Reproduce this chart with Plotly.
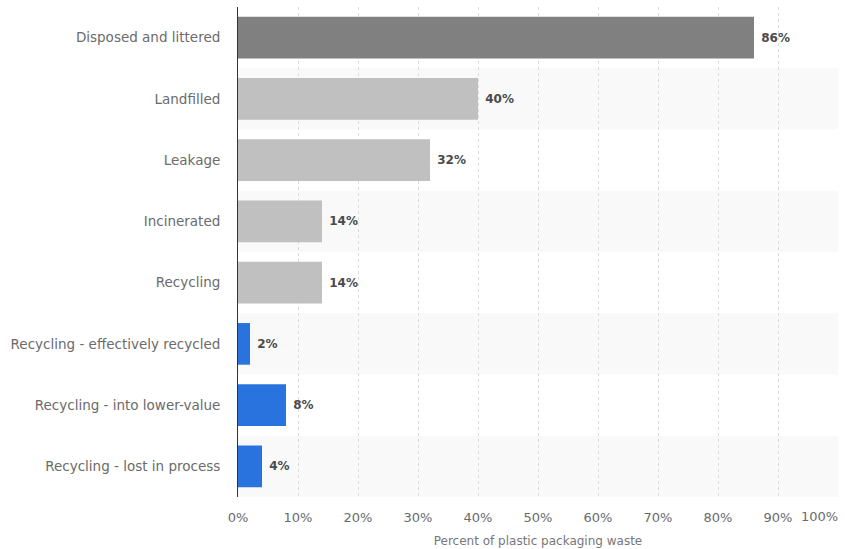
import plotly.graph_objects as go

categories = [
    "Disposed and littered",
    "Landfilled",
    "Leakage",
    "Incinerated",
    "Recycling",
    "Recycling - effectively recycled",
    "Recycling - into lower-value",
    "Recycling - lost in process",
]
values = [86, 40, 32, 14, 14, 2, 8, 4]
bar_colors = ["#808080", "#c0c0c0", "#c0c0c0", "#c0c0c0", "#c0c0c0",
              "#2873dd", "#2873dd", "#2873dd"]
x_ticks = [0, 10, 20, 30, 40, 50, 60, 70, 80, 90, 100]
x_tick_labels = [f"{t}%" for t in x_ticks]

FONT = "DejaVu Sans, Verdana, sans-serif"
TEXT_GREY = "#6b6b6b"

fig = go.Figure(
    go.Bar(
        x=values,
        y=categories,
        orientation="h",
        marker=dict(color=bar_colors, line=dict(width=0)),
        width=0.68,
        text=[f"\u00a0{v}%" for v in values],
        textposition="outside",
        textfont=dict(family=FONT, size=12, color="#4a4a4a", weight="bold"),
        cliponaxis=False,
        hoverinfo="skip",
    )
)

# alternating row bands behind every other category
shapes = []
for i in range(len(categories)):
    if i % 2 == 1:
        shapes.append(dict(
            type="rect", xref="paper", yref="y",
            x0=0, x1=1, y0=i - 0.5, y1=i + 0.5,
            fillcolor="#f9f9f9", line=dict(width=0), layer="below",
        ))

# last tick label sits right-aligned to the plot edge
labels_drawn = x_tick_labels[:-1] + [""]
annotations = [dict(
    text=x_tick_labels[-1], xref="paper", yref="paper",
    x=1.0, y=0, xanchor="right", yanchor="top", yshift=-10, xshift=2,
    showarrow=False, font=dict(family=FONT, size=13, color=TEXT_GREY),
)]

fig.update_layout(
    width=845, height=549,
    margin=dict(l=238, r=7, t=7, b=52),
    paper_bgcolor="white", plot_bgcolor="white",
    showlegend=False,
    shapes=shapes,
    annotations=annotations,
    font=dict(family=FONT, color=TEXT_GREY),
)

fig.update_xaxes(
    range=[0, 100],
    tickvals=x_ticks, ticktext=labels_drawn,
    tickfont=dict(family=FONT, size=13, color=TEXT_GREY),
    ticks="outside", ticklen=8, tickcolor="rgba(0,0,0,0)",
    showgrid=True, gridcolor="#dcdcdc", griddash="dot", gridwidth=1,
    zeroline=False, showline=False,
    automargin=False,
    title=dict(text="Percent of plastic packaging waste",
               font=dict(family=FONT, size=12, color="#777777"), standoff=13),
    fixedrange=True,
)

fig.update_yaxes(
    autorange="reversed",
    tickfont=dict(family=FONT, size=13.5, color=TEXT_GREY),
    ticks="outside", ticklen=14, tickcolor="rgba(0,0,0,0)",
    showgrid=False, zeroline=False,
    showline=True, linecolor="#333333", linewidth=1,
    automargin=False,
    fixedrange=True,
)

fig.write_html("out.html")
